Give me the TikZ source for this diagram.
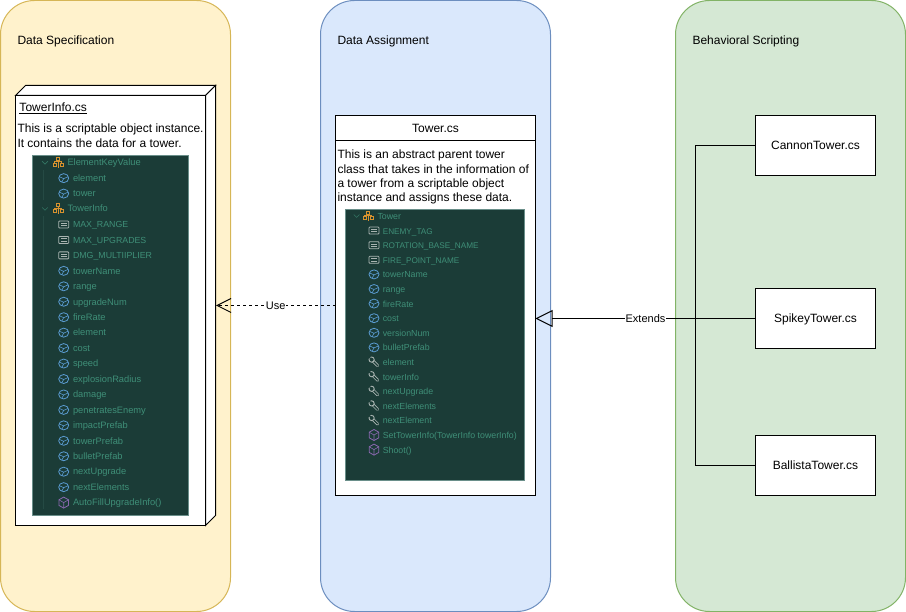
\documentclass[tikz,border=0pt]{standalone}
\usepackage{fontspec}
\setmainfont{Liberation Sans}
\usepackage{xcolor}
\usetikzlibrary{arrows.meta}

\definecolor{specfill}{HTML}{FFF2CC}
\definecolor{specline}{HTML}{D6B656}
\definecolor{assignfill}{HTML}{DAE8FC}
\definecolor{assignline}{HTML}{6C8EBF}
\definecolor{scriptfill}{HTML}{D5E8D4}
\definecolor{scriptline}{HTML}{82B366}
\definecolor{listbg}{HTML}{1B3C37}
\definecolor{listedge}{HTML}{6A8F8A}
\definecolor{listtext}{HTML}{3F8F78}
\definecolor{listguide}{HTML}{254A44}
\definecolor{fieldblue}{HTML}{5A9BD0}
\definecolor{methodpurple}{HTML}{8A68B0}
\definecolor{classorange}{HTML}{D8922E}
\definecolor{constgray}{HTML}{A9B4B1}

\tikzset{
    panel/.style={draw, rounded corners=34pt, minimum width=230pt, minimum height=611pt, anchor=north west, outer sep=0pt},
    paneltitle/.style={anchor=west, inner sep=0pt, text height=8.6pt, text depth=0pt},
    whitebox/.style={draw=black, fill=white, inner sep=0pt, outer sep=0pt, anchor=north west, text height=8.6pt, text depth=0pt},
    bodytext/.style={anchor=north west, align=left, inner sep=0pt, font=\fontsize{12}{14.4}\selectfont},
    listpanel/.style={draw=listedge, line width=.5pt, fill=listbg, inner sep=0pt, outer sep=0pt, anchor=north west},
    rowtext/.style={anchor=west, inner sep=0pt, text=listtext, text height=7pt, text depth=1pt},
    inforow/.style={rowtext, font=\fontsize{9.3}{10}\selectfont},
    infocaps/.style={rowtext, font=\fontsize{8.8}{10}\selectfont},
    towerrow/.style={rowtext, font=\fontsize{8.8}{10}\selectfont},
    towercaps/.style={rowtext, font=\fontsize{8.2}{10}\selectfont},
    edgelabel/.style={fill=white, inner sep=.5pt, font=\fontsize{11}{13}\selectfont},
    pics/fieldicon/.style={code={
        \draw[fieldblue, line width=.8pt] (0,0) ellipse (5pt and 4.5pt);
        \draw[fieldblue, line width=.6pt] (-4.5,-1.5) -- (0,.5) -- (4.5,-1.5) (0,.5) -- (-2,4);
    }},
    pics/methodicon/.style={code={
        \draw[methodpurple, line width=.8pt] (0,-5.5) -- (4.8,-2.8) -- (4.8,2.8) -- (0,5.5) -- (-4.8,2.8) -- (-4.8,-2.8) -- cycle;
        \draw[methodpurple, line width=.6pt] (-4.8,-2.8) -- (0,0) -- (4.8,-2.8) (0,0) -- (0,5.5);
    }},
    pics/consticon/.style={code={
        \draw[constgray, line width=.8pt, rounded corners=.8pt] (-5,-3.5) rectangle (5,3.5);
        \draw[constgray, line width=.8pt] (-2.8,-1.1) -- (2.8,-1.1) (-2.8,1.2) -- (2.8,1.2);
    }},
    pics/wrenchicon/.style={code={
        \draw[constgray, line width=3pt, line cap=round] (-1.5,-1.5) -- (3.6,3.6);
        \draw[listbg, line width=1.4pt, line cap=round] (-1.5,-1.5) -- (3.6,3.6);
        \draw[constgray, fill=listbg, line width=.9pt] (-2.4,-2.4) circle [radius=2.6pt];
        \draw[listbg, line width=1.4pt] (-2.2,-2.2) -- (-5,-5);
    }},
    pics/classicon/.style={code={
        \draw[classorange, line width=.8pt] (-1.6,-5) rectangle (1.6,-2);
        \draw[classorange, line width=.8pt] (-5,.5) rectangle (-2,3.5);
        \draw[classorange, line width=.8pt] (2,.5) rectangle (5,3.5);
        \draw[classorange, line width=.8pt] (0,-2) -- (0,5) (-3.5,.5) -- (-3.5,-.8) -- (3.5,-.8) -- (3.5,.5);
    }},
    pics/foldicon/.style={code={
        \draw[listtext!70!listbg, line width=.6pt] (-2.8,-1.4) -- (0,1.4) -- (2.8,-1.4);
    }}
}

\begin{document}
\begin{tikzpicture}[x=1pt, y=-1pt, line width=1pt, font=\fontsize{12}{14}\selectfont]
    \useasboundingbox (0,0) rectangle (906,612);

    % Panels
    \node[panel, draw=specline, fill=specfill] (spec) at (0.5,0.5) {};
    \node[panel, draw=assignline, fill=assignfill] (assign) at (320.5,0.5) {};
    \node[panel, draw=scriptline, fill=scriptfill] (script) at (675.5,0.5) {};

    \node[paneltitle] (spectitle) at (17,40) {Data Specification};
    \node[paneltitle] (assigntitle) at (337,40) {Data Assignment};
    \node[paneltitle] (scripttitle) at (692,40) {Behavioral Scripting};

    % TowerInfo box
    \node[whitebox, minimum width=190pt, minimum height=430pt] (infobox) at (15.5,95.5) {};
    \draw[fill=white] (infobox.north west) -- ++(10,-10) -- ++(190,0) -- ++(-10,10) -- cycle;
    \draw[fill=white] (infobox.north east) -- ++(10,-10) -- ++(0,430) -- ++(-10,10) -- cycle;
    \node[paneltitle] (infoname) at (19,107) {\underline{TowerInfo.cs}};
    \node[bodytext] (infotext) at (17,123.5) {This is a scriptable object instance.\\It contains the data for a tower.};
    \node[listpanel, minimum width=156pt, minimum height=360pt] (infolist) at (32,155) {};
    \draw[listguide, line width=.6pt] (43.5,170) -- (43.5,200) (43.5,216) -- (43.5,509);

    \pic at (45,162.7) {foldicon};
    \pic at (58,162.7) {classicon};
    \node[inforow] (infoclass1) at (67,163) {ElementKeyValue};
    \pic at (45,208.9) {foldicon};
    \pic at (58,208.9) {classicon};
    \node[inforow] (infoclass2) at (67,209) {TowerInfo};

    \foreach \i/\rowname in {4/MAX\_RANGE, 5/MAX\_UPGRADES, 6/DMG\_MULTIIPLIER}
    {
        \pic at (63.7,{162.7+\i*15.45}) {consticon};
        \node[infocaps] (info\i) at (72.5,{163+\i*15.45}) {\rowname};
    }
    \foreach \i/\rowicon/\rowname in {
        1/fieldicon/element, 2/fieldicon/tower,
        7/fieldicon/towerName, 8/fieldicon/range, 9/fieldicon/upgradeNum, 10/fieldicon/fireRate,
        11/fieldicon/element, 12/fieldicon/cost, 13/fieldicon/speed, 14/fieldicon/explosionRadius,
        15/fieldicon/damage, 16/fieldicon/penetratesEnemy, 17/fieldicon/impactPrefab,
        18/fieldicon/towerPrefab, 19/fieldicon/bulletPrefab, 20/fieldicon/nextUpgrade,
        21/fieldicon/nextElements, 22/methodicon/AutoFillUpgradeInfo()}
    {
        \pic at (63.7,{162.7+\i*15.45}) {\rowicon};
        \node[inforow] (info\i) at (72.5,{163+\i*15.45}) {\rowname};
    }

    % Tower box
    \node[whitebox, minimum width=200pt, minimum height=380pt] (towerbox) at (335.5,115.5) {};
    \node[whitebox, minimum width=200pt, minimum height=25pt] (towerhead) at (335.5,115.5) {Tower.cs};
    \node[bodytext] (towertext) at (337,149.5) {This is an abstract parent tower\\class that takes in the information of\\a tower from a scriptable object\\instance and assigns these data.};
    \node[listpanel, minimum width=179pt, minimum height=270.5pt] (towerlist) at (345,209.7) {};

    \pic at (356.6,216) {foldicon};
    \pic at (368,216) {classicon};
    \node[towerrow] (towerclass) at (377,216.5) {Tower};

    \foreach \i/\rowname in {1/ENEMY\_TAG, 2/ROTATION\_BASE\_NAME, 3/FIRE\_POINT\_NAME}
    {
        \pic at (374,{216+\i*14.6}) {consticon};
        \node[towercaps] (tower\i) at (382.3,{216.5+\i*14.6}) {\rowname};
    }
    \foreach \i/\rowicon/\rowname in {
        4/fieldicon/towerName, 5/fieldicon/range, 6/fieldicon/fireRate, 7/fieldicon/cost,
        8/fieldicon/versionNum, 9/fieldicon/bulletPrefab, 10/wrenchicon/element,
        11/wrenchicon/towerInfo, 12/wrenchicon/nextUpgrade, 13/wrenchicon/nextElements,
        14/wrenchicon/nextElement, 15/methodicon/SetTowerInfo(TowerInfo towerInfo), 16/methodicon/Shoot()}
    {
        \pic at (374,{216+\i*14.6}) {\rowicon};
        \node[towerrow] (tower\i) at (382.3,{216.5+\i*14.6}) {\rowname};
    }

    % Child towers
    \node[whitebox, minimum width=120pt, minimum height=60pt] (cannon) at (755.5,115.5) {CannonTower.cs};
    \node[whitebox, minimum width=120pt, minimum height=60pt] (spikey) at (755.5,288.5) {SpikeyTower.cs};
    \node[whitebox, minimum width=120pt, minimum height=60pt] (ballista) at (755.5,435.5) {BallistaTower.cs};

    % Connectors
    \coordinate (infotip) at (216,305.5);
    \coordinate (joint) at (695.5,318.5);
    \draw[dashed, dash pattern=on 3pt off 3pt, -{Straight Barb[length=14pt, width=14pt]}] (towerbox.west) -- node[edgelabel] (uselabel) {Use} (infotip);
    \draw (cannon.west) -| (joint);
    \draw (ballista.west) -| (joint);
    \draw[-{Triangle[open, length=17pt, width=17pt]}] (spikey.west) -- node[edgelabel, pos=.5] (extendslabel) {Extends} (spikey.west -| towerbox.east);
\end{tikzpicture}
\end{document}
